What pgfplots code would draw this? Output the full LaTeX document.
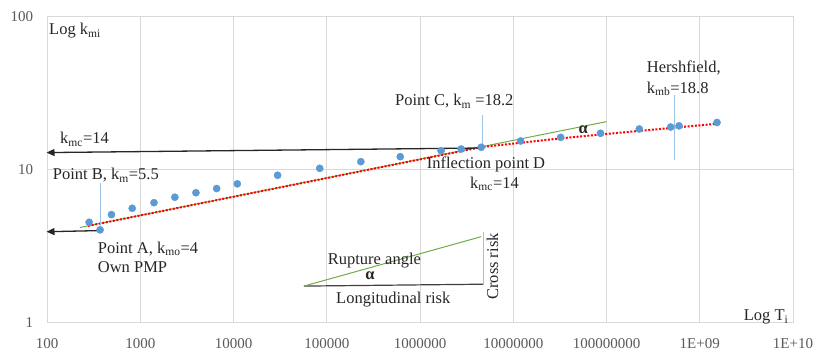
\documentclass[border=0pt]{standalone}
\usepackage{pgfplots}
\pgfplotsset{compat=1.18}
\usepackage{fontspec}
\setmainfont{Liberation Serif}
\usetikzlibrary{arrows.meta}
\definecolor{ptblue}{HTML}{5B9BD5}
\definecolor{lblue}{HTML}{9DC3E6}
\definecolor{tgreen}{HTML}{70AD47}
\definecolor{gridc}{HTML}{D9D9D9}
\definecolor{tickc}{HTML}{595959}
\begin{document}
\begin{tikzpicture}
\path[use as bounding box] (-47bp,-29.5bp) rectangle (766bp,322.5bp);
\begin{axis}[
  at={(0,0)}, anchor=south west,
  scale only axis, width=746bp, height=306bp,
  xmode=log, ymode=log,
  xmin=100, xmax=1e10, ymin=1, ymax=100,
  clip=false,
  xtick={1e2,1e3,1e4,1e5,1e6,1e7,1e8,1e9,1e10},
  xticklabels={100,1000,10000,100000,1000000,10000000,100000000,1E+09,1E+10},
  ytick={1,10,100},
  yticklabels={1,10,100},
  minor tick num=0,
  xminorticks=false, yminorticks=false,
  major tick length=0pt,
  grid=major,
  grid style={draw=gridc, line width=0.8bp},
  axis line style={draw=gridc, line width=0.8bp},
  xticklabel style={anchor=base, inner sep=0pt, yshift=-25.5bp, font=\fontsize{15bp}{17bp}\selectfont, text=tickc},
  yticklabel style={anchor=east, inner sep=0pt, xshift=-13.7bp, font=\fontsize{15bp}{17bp}\selectfont, text=tickc},
]
% main green line
\addplot[tgreen, line width=1bp] coordinates {(226,4.18) (1e8,20.55)};
% data points
\addplot[only marks, mark=*, mark size=3.6bp, mark options={fill=ptblue, draw=ptblue}] coordinates {
(283,4.52) (371,4.03) (491,5.07) (820,5.58) (1404,6.07) (2350,6.59) (3953,7.05) (6598,7.51)
(10987,8.06) (29730,9.17) (84060,10.18) (232000,11.25) (614000,12.13) (1.682e6,13.27)
(2.76e6,13.61) (4.53e6,13.97) (1.198e7,15.36) (3.226e7,16.23) (8.62e7,17.25) (2.247e8,18.4)
(4.88e8,18.95) (5.99e8,19.3) (1.531e9,20.29)};
% red dotted trend
\addplot[red, line width=2bp, dash pattern=on 2bp off 1.6bp] coordinates {
(276,4.28) (4.53e6,14.0) (3.28e7,16.0) (1.13e8,17.2) (1.52e9,19.9)};
% black arrows
\addplot[black!85, line width=1.3bp, -{Triangle[length=8bp,width=7bp]}] coordinates {(4.53e6,13.82) (98.8,12.9)};
\addplot[black!85, line width=1.3bp, -{Triangle[length=8bp,width=7bp]}] coordinates {(372,3.99) (98.8,3.92)};
% light blue vertical markers
\addplot[lblue, line width=1bp] coordinates {(372,8.17) (372,4.0)};
\addplot[lblue, line width=1bp] coordinates {(4.65e6,22.7) (4.65e6,14.0)};
\addplot[lblue, line width=1.2bp] coordinates {(5.32e8,30.7) (5.32e8,11.5)};
% rupture angle triangle
\addplot[black!75, line width=1.2bp] coordinates {(5.7e4,1.73) (4.84e6,1.78)};
\addplot[tgreen, line width=1bp] coordinates {(5.7e4,1.73) (4.53e6,3.64)};
\addplot[lblue, line width=1.2bp] coordinates {(4.84e6,3.92) (4.84e6,1.76)};
\end{axis}
\begin{scope}[every node/.style={inner sep=0pt, font=\fontsize{16.5bp}{19bp}\selectfont, text=black!85}]
\node[anchor=base west] at (2bp,287.5bp) {Log k\textsubscript{mi}};
\node[anchor=base west] at (13bp,178.5bp) {k\textsubscript{mc}=14};
\node[anchor=base west] at (5.7bp,142.5bp) {Point B, k\textsubscript{m}=5.5};
\node[anchor=base west] at (50.7bp,69.2bp) {Point A, k\textsubscript{mo}=4};
\node[anchor=base west] at (50.7bp,49.8bp) {Own PMP};
\node[anchor=base west] at (348bp,216.8bp) {Point C, k\textsubscript{m} =18.2};
\node[anchor=base west] at (379.7bp,154.2bp) {Inflection point D};
\node[anchor=base west] at (423bp,134.2bp) {k\textsubscript{mc}=14};
\node[anchor=base west] at (599.7bp,250.2bp) {Hershfield,};
\node[anchor=base west] at (599.7bp,229.2bp) {k\textsubscript{mb}=18.8};
\node[anchor=base west] at (280.7bp,58.2bp) {Rupture angle};
\node[anchor=base] at (323bp,42.5bp) {\textbf{α}};
\node[anchor=base west] at (289bp,19.2bp) {Longitudinal risk};
\node[anchor=base, rotate=90] at (451bp,56bp) {Cross risk};
\node[anchor=base] at (536.3bp,189.2bp) {\textbf{α}};
\node[anchor=base west] at (696.7bp,1.8bp) {Log T\textsubscript{i}};
\end{scope}
\end{tikzpicture}
\end{document}
